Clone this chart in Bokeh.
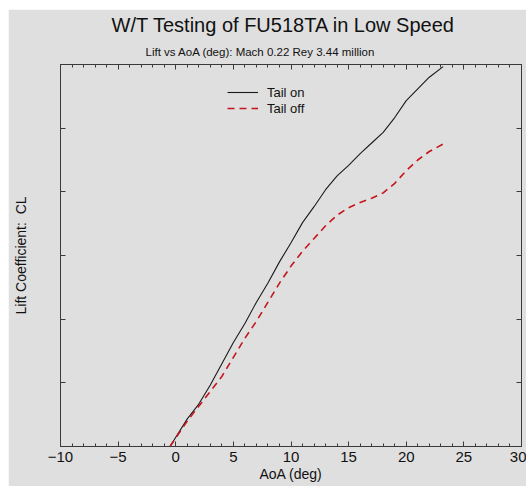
from bokeh.plotting import figure
from bokeh.models import (LinearAxis, SingleIntervalTicker, FixedTicker, Title,
                          CustomJSTickFormatter, Legend, LegendItem)
from bokeh.embed import file_html
from bokeh.resources import INLINE

# ---- data ----
aoa_on = [-0.5, 1, 2, 3, 4, 5, 6, 7, 8, 9, 10, 11, 12, 13, 14, 15, 16, 17, 18, 19, 20, 21, 22, 23.2]
cl_on = [0.0, 0.13, 0.20, 0.29, 0.39, 0.49, 0.58, 0.68, 0.77, 0.87, 0.96, 1.055, 1.13, 1.21,
         1.275, 1.325, 1.38, 1.43, 1.48, 1.55, 1.63, 1.685, 1.74, 1.79]
aoa_off = [-0.5, 1, 2, 3, 4, 5, 6, 7, 8, 9, 10, 11, 12, 13, 14, 15, 16, 17, 18, 19, 20, 21, 22, 23.2]
cl_off = [0.0, 0.12, 0.19, 0.26, 0.33, 0.42, 0.51, 0.59, 0.68, 0.77, 0.85, 0.92, 0.98, 1.04,
          1.09, 1.125, 1.15, 1.17, 1.195, 1.24, 1.30, 1.35, 1.39, 1.425]
series_names = ["Tail on", "Tail off"]
x_ticks_interval = 5
y_ticks = [0.3, 0.6, 0.9, 1.2, 1.5]

BG = "#dfdfdf"
AX = "#3a3a3a"
FONT = "Liberation Sans"

p = figure(width=518, height=477, margin=(9, 0, 0, 8),
           x_range=(-10, 30), y_range=(0, 1.8),
           output_backend="svg", toolbar_location=None, title=None,
           min_border_left=52, min_border_right=5, min_border_top=55, min_border_bottom=40,
           background_fill_color=BG, border_fill_color=BG,
           x_axis_label="AoA (deg)", y_axis_label="Lift Coefficient:\u00a0 CL")
p.grid.visible = False
p.outline_line_color = AX
p.outline_line_width = 1

fmt = CustomJSTickFormatter(code="return tick < 0 ? '\u2212' + Math.abs(tick) : String(tick);")
blank = CustomJSTickFormatter(code="return '';")

# bottom axis
xa = p.xaxis[0]
xa.ticker = SingleIntervalTicker(interval=x_ticks_interval, num_minor_ticks=5)
xa.formatter = fmt
xa.major_tick_in = 5
xa.major_tick_out = 0
xa.minor_tick_in = 3
xa.minor_tick_out = 0
xa.axis_line_color = AX
xa.major_tick_line_color = AX
xa.minor_tick_line_color = AX
xa.major_label_text_font = FONT
xa.major_label_text_font_size = "15px"
xa.major_label_text_color = "#111111"
xa.major_label_standoff = 5
xa.axis_label_text_font = FONT
xa.axis_label_text_font_size = "14px"
xa.axis_label_text_font_style = "normal"
xa.axis_label_text_color = "#111111"
xa.axis_label_standoff = 1

# left axis
ya = p.yaxis[0]
ya.ticker = FixedTicker(ticks=y_ticks)
ya.formatter = blank
ya.major_label_standoff = 0
ya.major_tick_in = 5
ya.major_tick_out = 0
ya.minor_tick_in = 0
ya.minor_tick_out = 0
ya.axis_line_color = AX
ya.major_tick_line_color = AX
ya.axis_label_text_font = FONT
ya.axis_label_text_font_size = "14px"
ya.axis_label_text_font_style = "normal"
ya.axis_label_text_color = "#111111"
ya.axis_label_standoff = 32

# top and right axes (ticks only)
top = LinearAxis(ticker=SingleIntervalTicker(interval=x_ticks_interval, num_minor_ticks=5),
                 formatter=blank, major_label_standoff=0,
                 major_tick_in=5, major_tick_out=0, minor_tick_in=3, minor_tick_out=0,
                 axis_line_color=AX, major_tick_line_color=AX, minor_tick_line_color=AX)
p.add_layout(top, "above")
right = LinearAxis(ticker=FixedTicker(ticks=y_ticks),
                   formatter=blank, major_label_standoff=0,
                   major_tick_in=5, major_tick_out=0, minor_tick_in=0, minor_tick_out=0,
                   axis_line_color=AX, major_tick_line_color=AX)
p.add_layout(right, "right")

# titles (subtitle first = closest to the frame)
sub = Title(text="Lift vs AoA (deg): Mach 0.22 Rey 3.44 million", align="left", offset=85,
            text_font=FONT, text_font_size="11.5px", text_font_style="normal",
            text_color="#111111", standoff=14)
p.add_layout(sub, "above")
main = Title(text="W/T Testing of FU518TA in Low Speed", align="left", offset=51,
             text_font=FONT, text_font_size="20px", text_font_style="normal",
             text_color="#111111", standoff=2)
p.add_layout(main, "above")

r_on = p.line(aoa_on, cl_on, line_color="#1a1a1a", line_width=1.1)
r_off = p.line(aoa_off, cl_off, line_color="#c4161c", line_width=1.6, line_dash="7 5")

legend = Legend(items=[LegendItem(label=series_names[0], renderers=[r_on]),
                       LegendItem(label=series_names[1], renderers=[r_off])],
                location=(167, 330), padding=0, margin=0, spacing=0,
                label_height=16, glyph_height=16, glyph_width=31, label_standoff=9,
                label_text_font=FONT, label_text_font_size="13px", label_text_color="#111111",
                background_fill_alpha=0, border_line_alpha=0)
p.add_layout(legend, "center")

open("out.html", "w").write(file_html(p, INLINE))
